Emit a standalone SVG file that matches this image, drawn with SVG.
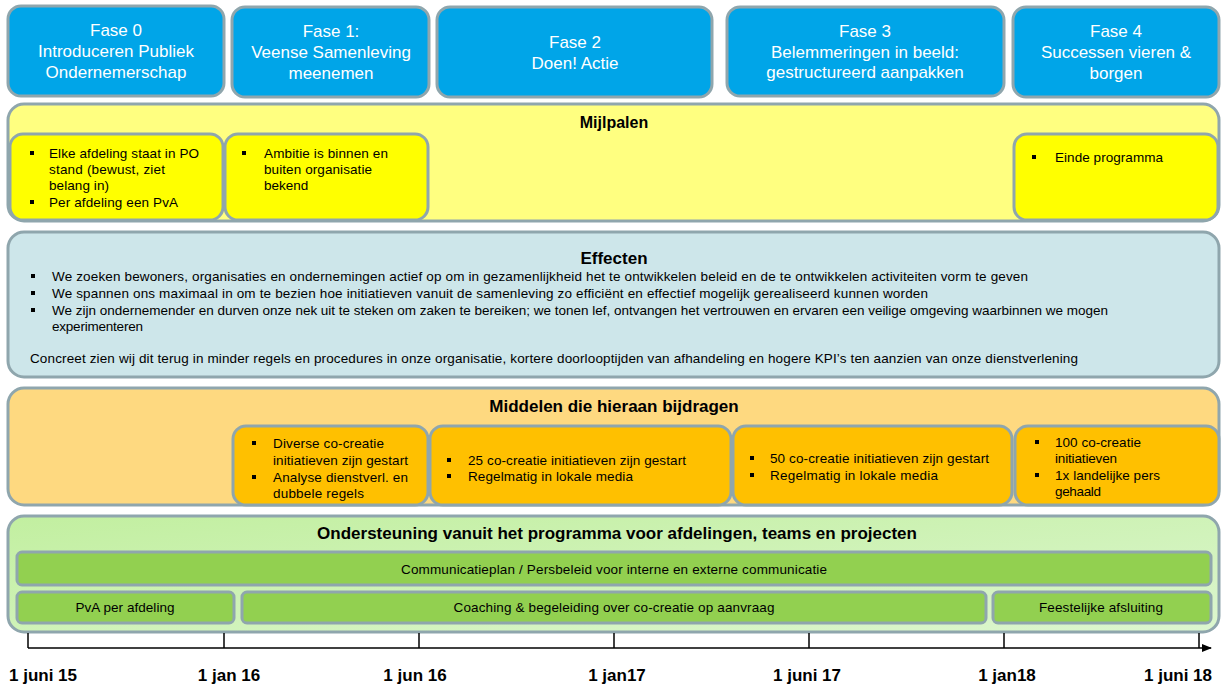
<svg xmlns="http://www.w3.org/2000/svg" width="1221" height="684" viewBox="0 0 1221 684">
  <defs>
    <linearGradient id="greenBand" x1="0" y1="0" x2="1" y2="1">
      <stop offset="0" stop-color="#c2efa0"/>
      <stop offset="1" stop-color="#dcf6cf"/>
    </linearGradient>
    <marker id="arrow" markerWidth="10" markerHeight="10" refX="9" refY="5" orient="auto" markerUnits="userSpaceOnUse">
      <path d="M0,1 L10,5 L0,9 Z" fill="#000"/>
    </marker>
    <style>
      .box { stroke: #8fa6ad; stroke-width: 3; }
      .phase { fill: #00a5e8; }
      .mijl { fill: #ffff80; }
      .mijl-in { fill: #ffff00; }
      .eff { fill: #cde6ea; }
      .mid { fill: #fed980; }
      .mid-in { fill: #ffc000; }
      .steun { fill: url(#greenBand); }
      .bar { fill: #92d050; }
      text { font-family: "Liberation Sans", Arial, sans-serif; }
      .ph { font-size: 17px; fill: #fff; text-anchor: middle; }
      .ttl { font-size: 17px; font-weight: bold; fill: #000; text-anchor: middle; }
      .t { font-size: 13.5px; fill: #000; }
      .c { font-size: 13.5px; fill: #000; text-anchor: middle; }
      .date { font-size: 17px; font-weight: bold; fill: #000; text-anchor: middle; }
      .blt { fill: #000; }
      .axis { stroke: #000; stroke-width: 1.5; fill: none; }
    </style>
  </defs>

  <!-- Phases -->
  <g id="fase0">
    <rect class="box phase" x="8" y="6" width="216" height="90" rx="13"/>
    <text class="ph" x="116" y="36">Fase 0</text>
    <text class="ph" x="116" y="57">Introduceren Publiek</text>
    <text class="ph" x="116" y="78">Ondernemerschap</text>
  </g>
  <g id="fase1">
    <rect class="box phase" x="232" y="7" width="197" height="90" rx="13"/>
    <text class="ph" x="331" y="37">Fase 1:</text>
    <text class="ph" x="331" y="58">Veense Samenleving</text>
    <text class="ph" x="331" y="79">meenemen</text>
  </g>
  <g id="fase2">
    <rect class="box phase" x="437" y="7" width="275" height="90" rx="13"/>
    <text class="ph" x="575" y="48">Fase 2</text>
    <text class="ph" x="575" y="69">Doen! Actie</text>
  </g>
  <g id="fase3">
    <rect class="box phase" x="727" y="7" width="277" height="89" rx="13"/>
    <text class="ph" x="865" y="37">Fase 3</text>
    <text class="ph" x="865" y="58">Belemmeringen  in beeld:</text>
    <text class="ph" x="865" y="78">gestructureerd aanpakken</text>
  </g>
  <g id="fase4">
    <rect class="box phase" x="1013" y="7" width="206" height="90" rx="13"/>
    <text class="ph" x="1116" y="37">Fase 4</text>
    <text class="ph" x="1116" y="58">Successen vieren &amp;</text>
    <text class="ph" x="1116" y="79">borgen</text>
  </g>

  <!-- Milestones -->
  <g id="mijlpalen">
    <rect class="box mijl" x="8" y="104" width="1211" height="117" rx="16"/>
    <text class="ttl" x="614" y="128" style="font-size:16px">Mijlpalen</text>
  </g>
  <g id="mijlpaal-0">
    <rect class="box mijl-in" x="10" y="134" width="213" height="86" rx="13"/>
    <rect class="blt" x="30" y="151" width="4" height="4"/>
    <text class="t" x="49" y="158" textLength="150">Elke afdeling staat in PO</text>
    <text class="t" x="49" y="174" textLength="116">stand (bewust, ziet</text>
    <text class="t" x="49" y="190" textLength="60">belang in)</text>
    <rect class="blt" x="30" y="200" width="4" height="4"/>
    <text class="t" x="49" y="207" textLength="129">Per afdeling een PvA</text>
  </g>
  <g id="mijlpaal-1">
    <rect class="box mijl-in" x="225" y="134" width="203" height="86" rx="13"/>
    <rect class="blt" x="242" y="151" width="4" height="4"/>
    <text class="t" x="264" y="158" textLength="124">Ambitie is binnen en</text>
    <text class="t" x="264" y="174" textLength="108">buiten organisatie</text>
    <text class="t" x="264" y="190">bekend</text>
  </g>
  <g id="mijlpaal-4">
    <rect class="box mijl-in" x="1014" y="134" width="204" height="86" rx="13"/>
    <rect class="blt" x="1032" y="155" width="4" height="4"/>
    <text class="t" x="1055" y="162" textLength="108">Einde programma</text>
  </g>

  <!-- Effects -->
  <g id="effecten">
    <rect class="box eff" x="8" y="232" width="1211" height="145" rx="16"/>
    <text class="ttl" x="614" y="264">Effecten</text>
    <rect class="blt" x="31" y="274" width="4" height="4"/>
    <text class="t" x="52" y="281" textLength="976">We zoeken bewoners,  organisaties en ondernemingen  actief op om in gezamenlijkheid  het te ontwikkelen  beleid en de te ontwikkelen  activiteiten vorm te geven</text>
    <rect class="blt" x="31" y="291" width="4" height="4"/>
    <text class="t" x="52" y="298" textLength="876">We spannen ons maximaal  in om te bezien hoe initiatieven vanuit de samenleving  zo efficiënt en effectief mogelijk gerealiseerd kunnen worden</text>
    <rect class="blt" x="31" y="308" width="4" height="4"/>
    <text class="t" x="52" y="315" textLength="1056">We zijn ondernemender  en durven onze nek uit te steken om zaken te bereiken; we tonen lef, ontvangen  het vertrouwen  en ervaren een veilige omgeving  waarbinnen  we mogen</text>
    <text class="t" x="52" y="331" textLength="91">experimenteren</text>
    <text class="t" x="30" y="363" textLength="1048">Concreet zien wij dit terug in minder regels en procedures in onze organisatie, kortere doorlooptijden  van afhandeling  en hogere KPI’s ten aanzien van onze dienstverlening</text>
  </g>

  <!-- Means -->
  <g id="middelen">
    <rect class="box mid" x="8" y="388" width="1211" height="117" rx="16"/>
    <text class="ttl" x="614" y="412">Middelen die hieraan bijdragen</text>
  </g>
  <g id="middel-1">
    <rect class="box mid-in" x="233" y="426" width="195" height="79" rx="13"/>
    <rect class="blt" x="252" y="441" width="4" height="4"/>
    <text class="t" x="273" y="448" textLength="111">Diverse co-creatie</text>
    <text class="t" x="273" y="465" textLength="135">initiatieven  zijn gestart</text>
    <rect class="blt" x="252" y="475" width="4" height="4"/>
    <text class="t" x="273" y="482" textLength="135">Analyse dienstverl.  en</text>
    <text class="t" x="273" y="498" textLength="91">dubbele  regels</text>
  </g>
  <g id="middel-2">
    <rect class="box mid-in" x="430" y="426" width="301" height="79" rx="13"/>
    <rect class="blt" x="447" y="458" width="4" height="4"/>
    <text class="t" x="468" y="465" textLength="218">25 co-creatie initiatieven zijn gestart</text>
    <rect class="blt" x="447" y="474" width="4" height="4"/>
    <text class="t" x="468" y="481" textLength="165">Regelmatig  in lokale media</text>
  </g>
  <g id="middel-3">
    <rect class="box mid-in" x="733" y="426" width="279" height="79" rx="13"/>
    <rect class="blt" x="750" y="456" width="4" height="4"/>
    <text class="t" x="770" y="463" textLength="219">50 co-creatie initiatieven  zijn gestart</text>
    <rect class="blt" x="750" y="473" width="4" height="4"/>
    <text class="t" x="770" y="480" textLength="168">Regelmatig  in lokale  media</text>
  </g>
  <g id="middel-4">
    <rect class="box mid-in" x="1015" y="426" width="204" height="79" rx="13"/>
    <rect class="blt" x="1035" y="440" width="4" height="4"/>
    <text class="t" x="1055" y="447" textLength="86">100 co-creatie</text>
    <text class="t" x="1055" y="463" textLength="62">initiatieven</text>
    <rect class="blt" x="1035" y="473" width="4" height="4"/>
    <text class="t" x="1055" y="480" textLength="105">1x landelijke  pers</text>
    <text class="t" x="1055" y="496" textLength="46">gehaald</text>
  </g>

  <!-- Support -->
  <g id="ondersteuning">
    <rect class="box steun" x="8" y="516" width="1211" height="116" rx="16"/>
    <text class="ttl" x="617" y="539">Ondersteuning vanuit het programma voor afdelingen, teams en projecten</text>
  </g>
  <g id="communicatieplan">
    <rect class="box bar" x="17" y="552" width="1194" height="33" rx="5"/>
    <text class="c" x="614" y="574" textLength="426">Communicatieplan  / Persbeleid voor interne en externe  communicatie</text>
  </g>
  <g id="pva">
    <rect class="box bar" x="17" y="592" width="217" height="31" rx="5"/>
    <text class="c" x="125" y="612" textLength="99">PvA per afdeling</text>
  </g>
  <g id="coaching">
    <rect class="box bar" x="242" y="592" width="744" height="31" rx="5"/>
    <text class="c" x="614" y="612" textLength="321">Coaching &amp; begeleiding  over co-creatie op aanvraag</text>
  </g>
  <g id="afsluiting">
    <rect class="box bar" x="993" y="592" width="218" height="31" rx="5"/>
    <text class="c" x="1101" y="612" textLength="124">Feestelijke  afsluiting</text>
  </g>

  <!-- Time axis -->
  <g id="connectors">
    <line class="axis" x1="28" y1="648" x2="1211" y2="648" marker-end="url(#arrow)"/>
    <line class="axis" x1="28" y1="633" x2="28" y2="648"/>
    <line class="axis" x1="224" y1="633" x2="224" y2="648"/>
    <line class="axis" x1="419" y1="633" x2="419" y2="648"/>
    <line class="axis" x1="614" y1="633" x2="614" y2="648"/>
    <line class="axis" x1="809" y1="633" x2="809" y2="648"/>
    <line class="axis" x1="1004" y1="633" x2="1004" y2="648"/>
    <line class="axis" x1="1199" y1="633" x2="1199" y2="648"/>
  </g>
  <g id="datums">
    <text class="date" x="43" y="681">1 juni 15</text>
    <text class="date" x="229" y="681">1 jan 16</text>
    <text class="date" x="415" y="681">1 jun 16</text>
    <text class="date" x="617" y="681">1 jan17</text>
    <text class="date" x="807" y="681">1 juni 17</text>
    <text class="date" x="1007" y="681">1 jan18</text>
    <text class="date" x="1178" y="681">1 juni 18</text>
  </g>
</svg>
